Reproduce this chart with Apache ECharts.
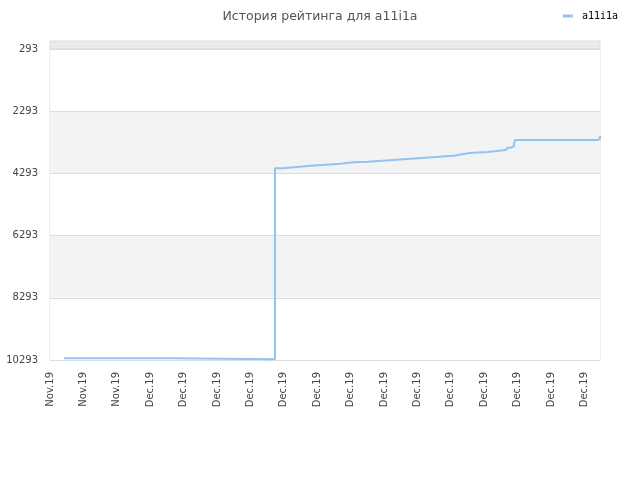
<!DOCTYPE html>
<html><head><meta charset="utf-8">
<script src="https://cdn.jsdelivr.net/npm/echarts@6/dist/echarts.min.js"></script>
<style>html,body{margin:0;padding:0;background:#fff}#c{width:640px;height:480px}</style>
</head><body><div id="c"></div>
<script>
const titleText = 'История рейтинга для a11i1a';
const seriesName = 'a11i1a';
// x in days from first tick label; y = rating position
const days = [0.84, 7.23, 13.47, 13.97, 14.77, 15.63, 16.49, 17.37, 18.20, 19.06, 19.90, 20.76, 21.62, 22.46, 23.31, 24.15, 24.51, 25.11, 26.19, 26.75, 27.11, 27.35, 27.59, 27.78, 27.84, 30.34, 32.77, 32.93];
const ratings = [10235, 10272, 4129, 4087, 4045, 4013, 3981, 3936, 3916, 3884, 3852, 3820, 3788, 3756, 3723, 3691, 3637, 3605, 3572, 3550, 3531, 3466, 3421, 3347, 3219, 3219, 3177, 3090];
const xTickLabels = ['Nov.19','Nov.19','Nov.19','Dec.19','Dec.19','Dec.19','Dec.19','Dec.19','Dec.19','Dec.19','Dec.19','Dec.19','Dec.19','Dec.19','Dec.19','Dec.19','Dec.19'];
const yMin = 293, yMax = 10293, yStep = 2000;

const data = days.map((d, i) => [d, ratings[i]]);

const chart = echarts.init(document.getElementById('c'), null, {renderer: 'canvas'});
chart.setOption({
  animation: false,
  title: {text: titleText, left: 'center', top: 5,
    textStyle: {fontFamily: 'DejaVu Sans', fontSize: 12.5, fontWeight: 'normal', color: '#555'}},
  legend: {right: 17, top: 6, icon: 'rect', itemWidth: 10, itemHeight: 3, itemGap: 5,
    textStyle: {fontFamily: 'DejaVu Sans Mono', fontSize: 10, color: '#000', padding: [0, 0, 0, 4]},
    data: [seriesName]},
  grid: {left: 50, right: 40, top: 49, bottom: 120, show: true, borderColor: '#ddd', borderWidth: 1,
    backgroundColor: 'transparent', containLabel: false, outerBoundsMode: 'none'},
  graphic: [{type: 'rect', shape: {x: 50, y: 41, width: 550, height: 8}, style: {fill: '#ebebeb', stroke: '#ddd', lineWidth: 1}, z: -1}],
  xAxis: {type: 'value', min: 0, max: 32.93, interval: 2,
    axisLine: {show: false}, axisTick: {show: false}, splitLine: {show: false},
    axisLabel: {rotate: 90, margin: 12, fontFamily: 'DejaVu Sans', fontSize: 10, color: '#444',
      formatter: v => { const i = Math.round(v / 2); return (Math.abs(v - i * 2) < 1e-6 && i < xTickLabels.length) ? xTickLabels[i] : ''; }}},
  yAxis: {type: 'value', inverse: true, min: yMin, max: yMax, interval: yStep,
    axisLine: {show: false}, axisTick: {show: false},
    splitLine: {show: true, lineStyle: {color: '#ddd', width: 1}},
    splitArea: {show: true, areaStyle: {color: ['#ffffff', '#f3f3f3']}},
    axisLabel: {margin: 12, fontFamily: 'DejaVu Sans', fontSize: 10, color: '#444', formatter: v => String(v)}},
  series: [{
    name: seriesName, type: 'line', step: 'end', data: data,
    showSymbol: false, symbol: 'none',
    lineStyle: {color: '#92c3f3', width: 2},
    itemStyle: {color: '#92c3f3'}
  }]
});
</script></body></html>
